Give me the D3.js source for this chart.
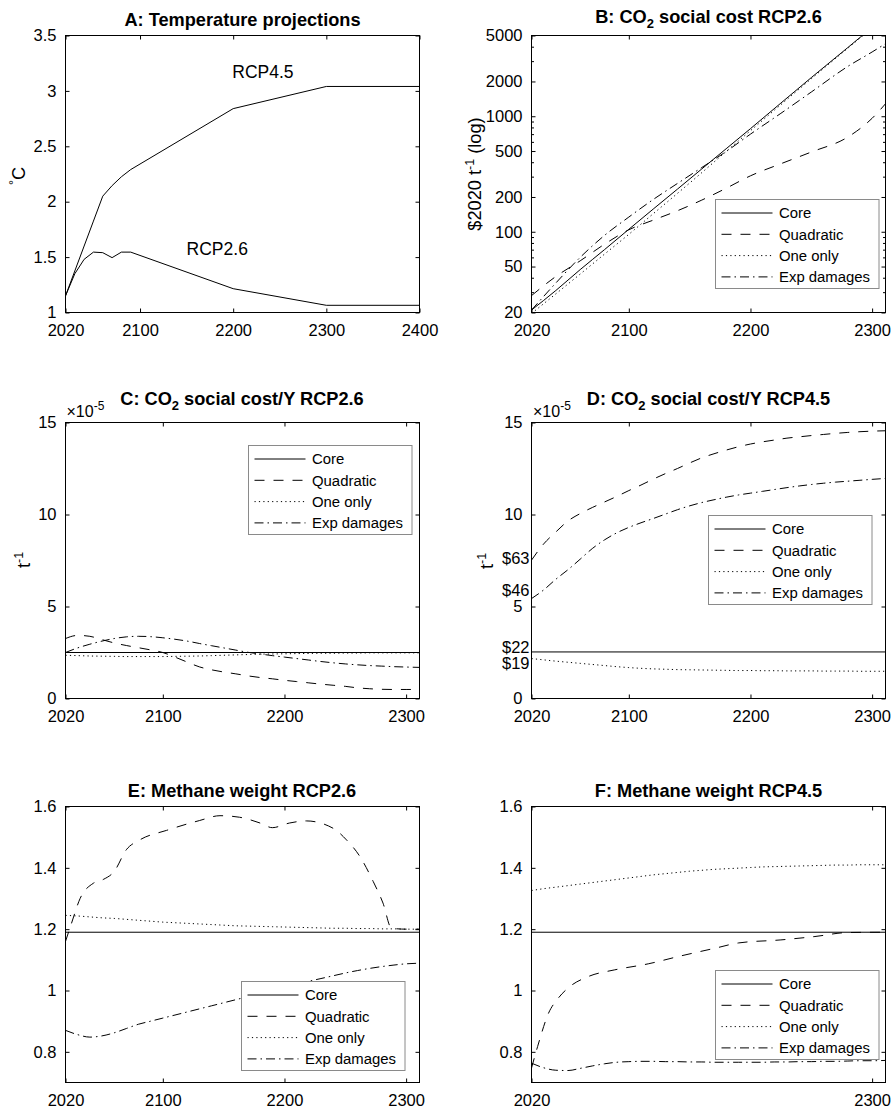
<!DOCTYPE html>
<html><head><meta charset="utf-8">
<script src="https://cdn.jsdelivr.net/npm/d3@7"></script>
<style>
body{margin:0;background:#fff}
svg{display:block}
text{font-family:"Liberation Sans",Arial,Helvetica,sans-serif;fill:#000}
</style>
</head><body>
<svg id="c" width="896" height="1111"></svg>
<script>
// ---------------- DATA ----------------
const seriesNames = ["Core", "Quadratic", "One only", "Exp damages"];

// Panel A
const yearsA = [2020, 2030, 2040, 2050, 2060, 2070, 2080, 2090, 2200, 2300, 2400];
const tempRCP26 = [1.15, 1.35, 1.48, 1.545, 1.54, 1.495, 1.545, 1.545, 1.215, 1.065, 1.065];
const tempRCP45 = [1.15, 1.375, 1.6, 1.825, 2.05, 2.145, 2.225, 2.29, 2.84, 3.04, 3.04];
const annoLabels = ["RCP4.5", "RCP2.6"];
const annoYears = [2199, 2150];
const annoVals = [3.12, 1.52];
const xTicksA = [2020, 2100, 2200, 2300, 2400];
const yTicksA = [1, 1.5, 2, 2.5, 3, 3.5];

// Panel B (log, $2020 per t)
const yearsB = [2020, 2040, 2060, 2080, 2100, 2120, 2140, 2160, 2180, 2200, 2225, 2250, 2280, 2300, 2311];
const sccCoreB = [21, 31, 47, 70, 105, 157, 234, 350, 523, 781, 1300, 2160, 3930, 5880, 7310];
const sccQuadB = [28, 41, 56, 78, 104, 126, 152, 188, 238, 305, 388, 490, 660, 960, 1282];
const sccOneB  = [19.6, 29, 43, 64, 95, 143, 215, 325, 495, 750, 1260, 2110, 3880, 5800, 7250];
const sccExpB  = [21, 36, 60, 93, 134, 190, 262, 360, 495, 700, 1060, 1620, 2700, 3600, 4250];
const yTicksB = [20, 50, 100, 200, 500, 1000, 2000, 5000];
const yMinorB = [30, 40, 60, 70, 80, 90, 300, 400, 600, 700, 800, 900, 3000, 4000];
const xTicksBE = [2020, 2100, 2200, 2300];

// Common yearly grid for C-F
const yearsCF = [2020, 2030, 2040, 2050, 2060, 2070, 2080, 2090, 2100, 2110,
                 2120, 2130, 2140, 2150, 2160, 2170, 2180, 2190, 2200, 2210,
                 2220, 2230, 2240, 2250, 2260, 2270, 2280, 2290, 2300, 2311];
const coreYears = [2020, 2311];

// Panel C (x 1e-5 per t), RCP2.6
const cCore = [2.5, 2.5];
const cQuad = [3.26, 3.43, 3.38, 3.20, 3.02, 2.88, 2.76, 2.64, 2.50, 2.25,
               1.98, 1.72, 1.56, 1.44, 1.34, 1.23, 1.14, 1.07, 0.99, 0.92,
               0.85, 0.78, 0.72, 0.66, 0.58, 0.53, 0.50, 0.49, 0.49, 0.49];
const cOne  = [2.35, 2.33, 2.31, 2.30, 2.29, 2.28, 2.28, 2.28, 2.28, 2.29,
               2.30, 2.31, 2.33, 2.35, 2.37, 2.39, 2.41, 2.42, 2.43, 2.44,
               2.45, 2.46, 2.46, 2.47, 2.47, 2.48, 2.48, 2.48, 2.48, 2.48];
const cExp  = [2.50, 2.75, 2.95, 3.12, 3.26, 3.35, 3.38, 3.36, 3.30, 3.22,
               3.12, 2.99, 2.87, 2.75, 2.63, 2.51, 2.42, 2.33, 2.25, 2.17,
               2.09, 2.01, 1.94, 1.88, 1.83, 1.79, 1.76, 1.73, 1.71, 1.69];

// Panel D (x 1e-5 per t), RCP4.5
const dCore = [2.53, 2.53];
const dQuad = [7.52, 8.40, 9.05, 9.65, 10.05, 10.38, 10.68, 10.98, 11.30, 11.60,
               11.92, 12.22, 12.50, 12.80, 13.08, 13.30, 13.50, 13.68, 13.83, 13.95,
               14.05, 14.15, 14.22, 14.29, 14.35, 14.41, 14.46, 14.50, 14.53, 14.55];
const dOne  = [2.17, 2.10, 2.03, 1.97, 1.91, 1.85, 1.79, 1.73, 1.68, 1.64,
               1.61, 1.59, 1.57, 1.56, 1.55, 1.54, 1.53, 1.52, 1.52, 1.51,
               1.51, 1.50, 1.50, 1.50, 1.49, 1.49, 1.49, 1.48, 1.48, 1.48];
const dExp  = [5.43, 5.90, 6.48, 7.00, 7.57, 8.15, 8.62, 9.00, 9.30, 9.55,
               9.78, 10.02, 10.26, 10.47, 10.65, 10.80, 10.94, 11.06, 11.16, 11.26,
               11.36, 11.46, 11.55, 11.63, 11.70, 11.76, 11.81, 11.86, 11.91, 11.96];
const dollarLabels = ["$63", "$46", "$22", "$19"];
const dollarLabelVals = [7.6, 5.9, 2.78, 1.9];
const yTicksCD = [0, 5, 10, 15];

// Panel E (methane weight), RCP2.6
const eCore = [1.19, 1.19];
const eQuadYears = [2020, 2025, 2032, 2043, 2051, 2060, 2070, 2081, 2103, 2130, 2147, 2163,
                    2180, 2190, 2204, 2218, 2240, 2251, 2262, 2273, 2281, 2288, 2300, 2311];
const eQuad = [1.16, 1.22, 1.30, 1.35, 1.362, 1.388, 1.459, 1.491, 1.522, 1.554, 1.57, 1.565,
               1.546, 1.531, 1.546, 1.553, 1.529, 1.491, 1.437, 1.355, 1.285, 1.203, 1.20, 1.20];
const eOne  = [1.245, 1.243, 1.240, 1.237, 1.235, 1.232, 1.229, 1.226, 1.223, 1.221,
               1.219, 1.217, 1.215, 1.213, 1.211, 1.210, 1.209, 1.208, 1.207, 1.206,
               1.205, 1.204, 1.203, 1.203, 1.202, 1.202, 1.201, 1.201, 1.200, 1.200];
const eExp  = [0.870, 0.856, 0.848, 0.852, 0.862, 0.876, 0.890, 0.900, 0.910, 0.920,
               0.930, 0.940, 0.950, 0.960, 0.970, 0.980, 0.990, 1.000, 1.010, 1.020,
               1.030, 1.039, 1.048, 1.057, 1.065, 1.072, 1.078, 1.083, 1.087, 1.089];
const yTicksEF = [0.8, 1, 1.2, 1.4, 1.6];

// Panel F (methane weight), RCP4.5
const fCore = [1.19, 1.19];
const fQuadYears = [2020, 2025, 2034, 2042, 2050, 2067, 2088, 2116, 2143, 2171, 2190, 2225, 2253, 2280, 2311];
const fQuad = [0.747, 0.817, 0.926, 0.975, 1.008, 1.046, 1.067, 1.087, 1.113, 1.138, 1.155, 1.165, 1.176, 1.189, 1.19];
const fOne  = [1.326, 1.332, 1.337, 1.342, 1.347, 1.352, 1.357, 1.362, 1.367, 1.372,
               1.377, 1.381, 1.385, 1.389, 1.392, 1.395, 1.397, 1.399, 1.401, 1.403,
               1.404, 1.405, 1.406, 1.407, 1.408, 1.409, 1.409, 1.410, 1.410, 1.410];
const fExp  = [0.763, 0.748, 0.740, 0.739, 0.746, 0.754, 0.761, 0.766, 0.768, 0.769,
               0.769, 0.768, 0.768, 0.767, 0.767, 0.766, 0.766, 0.766, 0.766, 0.766,
               0.767, 0.767, 0.768, 0.768, 0.769, 0.769, 0.770, 0.771, 0.771, 0.772];
const xTicksF = [2020, 2300];

// ---------------- DRAWING ----------------
const svg = d3.select("#c");
const TICK_FS = 16.5, TITLE_FS = 18.2, LEG_FS = 14.9;
const dashes = ["none", "10,9", "1.2,3.2", "9,4,1.5,4"];
const zip = (xs, ys) => xs.map((v, i) => [v, ys[i]]);

function makePanel(cfg) {
  const g = svg.append("g");
  const x = d3.scaleLinear().domain(cfg.xDomain).range([cfg.l, cfg.r]);
  const y = (cfg.log ? d3.scaleLog() : d3.scaleLinear()).domain(cfg.yDomain).range([cfg.b, cfg.t]);
  const clipId = "clip" + cfg.id;
  svg.append("clipPath").attr("id", clipId).append("rect")
    .attr("x", cfg.l).attr("y", cfg.t).attr("width", cfg.r - cfg.l).attr("height", cfg.b - cfg.t);

  const styleAxis = sel => {
    sel.attr("font-size", null).attr("font-family", null);
    sel.select(".domain").remove();
    sel.selectAll(".tick line").attr("stroke", "#000").attr("stroke-width", 1);
    sel.selectAll(".tick text").style("font-size", TICK_FS + "px").attr("fill", "#000");
  };
  const fmtY = cfg.yFormat || (d => d3.format("")(d));

  g.append("g").attr("transform", `translate(0,${cfg.b})`)
    .call(d3.axisBottom(x).tickValues(cfg.xTicks).tickFormat(d3.format("d"))
      .tickSizeInner(-4).tickSizeOuter(0).tickPadding(12)).call(styleAxis);
  g.append("g").attr("transform", `translate(0,${cfg.t})`)
    .call(d3.axisTop(x).tickValues(cfg.xTicks).tickFormat("")
      .tickSizeInner(-4).tickSizeOuter(0)).call(styleAxis);
  g.append("g").attr("transform", `translate(${cfg.l},0)`)
    .call(d3.axisLeft(y).tickValues(cfg.yTicks).tickFormat(fmtY)
      .tickSizeInner(-4).tickSizeOuter(0).tickPadding(9)).call(styleAxis);
  g.append("g").attr("transform", `translate(${cfg.r},0)`)
    .call(d3.axisRight(y).tickValues(cfg.yTicks).tickFormat("")
      .tickSizeInner(-4).tickSizeOuter(0)).call(styleAxis);
  if (cfg.yMinor) {
    g.append("g").attr("transform", `translate(${cfg.l},0)`)
      .call(d3.axisLeft(y).tickValues(cfg.yMinor).tickFormat("")
        .tickSizeInner(-2.5).tickSizeOuter(0)).call(styleAxis);
    g.append("g").attr("transform", `translate(${cfg.r},0)`)
      .call(d3.axisRight(y).tickValues(cfg.yMinor).tickFormat("")
        .tickSizeInner(-2.5).tickSizeOuter(0)).call(styleAxis);
  }
  g.append("rect").attr("x", cfg.l).attr("y", cfg.t)
    .attr("width", cfg.r - cfg.l).attr("height", cfg.b - cfg.t)
    .attr("fill", "none").attr("stroke", "#000").attr("stroke-width", 1);

  const lines = g.append("g").attr("clip-path", `url(#${clipId})`);
  return { g, x, y, lines };
}

function drawSeries(p, pts, dash, curve) {
  const line = d3.line().x(d => p.x(d[0])).y(d => p.y(d[1])).curve(curve || d3.curveMonotoneX);
  p.lines.append("path").attr("d", line(pts))
    .attr("fill", "none").attr("stroke", "#000").attr("stroke-width", 1)
    .attr("stroke-dasharray", dash === "none" ? null : dash);
}

function drawLegend(left, top) {
  const w = 163.5, h = 89;
  const lg = svg.append("g");
  lg.append("rect").attr("x", left).attr("y", top).attr("width", w).attr("height", h)
    .attr("fill", "#fff").attr("stroke", "#8a8a8a").attr("stroke-width", 1);
  seriesNames.forEach((name, i) => {
    const cy = top + 13.5 + i * 21.3;
    lg.append("line").attr("x1", left + 6).attr("x2", left + 57).attr("y1", cy).attr("y2", cy)
      .attr("stroke", "#000").attr("stroke-width", 1)
      .attr("stroke-dasharray", dashes[i] === "none" ? null : dashes[i]);
    lg.append("text").attr("x", left + 63.5).attr("y", cy + 5.3)
      .style("font-size", LEG_FS + "px").text(name);
  });
}

function title(cx, y, parts) {
  const t = svg.append("text").attr("x", cx).attr("y", y).attr("text-anchor", "middle")
    .style("font-size", TITLE_FS + "px").style("font-weight", "bold");
  parts.forEach(pt => {
    if (pt.sub) {
      t.append("tspan").attr("dy", 5).style("font-size", "13px").text(pt.text);
    } else {
      t.append("tspan").attr("dy", pt.back ? -5 : 0).text(pt.text);
    }
  });
}

function yLabel(x, y, parts) {
  const t = svg.append("text").attr("transform", `translate(${x},${y}) rotate(-90)`)
    .attr("text-anchor", "middle").style("font-size", TITLE_FS + "px");
  parts.forEach(pt => {
    if (pt.sup) t.append("tspan").attr("dy", -7).style("font-size", "12.5px").text(pt.text);
    else t.append("tspan").attr("dy", pt.back ? 7 : 0).text(pt.text);
  });
}

function expLabel(x, y) {
  const t = svg.append("text").attr("x", x).attr("y", y).style("font-size", "16px").attr("fill", "#000");
  t.append("tspan").text("\u00d710");
  t.append("tspan").attr("dy", -7).style("font-size", "12px").text("-5");
}

const fmtGeneral = d => (Math.round(d * 10) / 10).toString();

// ----- Panel A -----
const pA = makePanel({ id: "A", l: 65.5, r: 419.5, t: 35.5, b: 312.5,
  xDomain: [2020, 2400], yDomain: [1, 3.5], xTicks: xTicksA, yTicks: yTicksA, yFormat: fmtGeneral });
drawSeries(pA, zip(yearsA, tempRCP45), "none", d3.curveLinear);
drawSeries(pA, zip(yearsA, tempRCP26), "none", d3.curveLinear);
annoLabels.forEach((s, i) => {
  pA.g.append("text").attr("x", pA.x(annoYears[i])).attr("y", pA.y(annoVals[i]))
    .style("font-size", "17.5px").text(s);
});
title(242.5, 25.5, [{ text: "A: Temperature projections" }]);
yLabel(25, 176, [{ text: "\u00b0", sup: true }, { text: "C", back: true }]);

// ----- Panel B -----
const pB = makePanel({ id: "B", l: 531.5, r: 885.5, t: 35.5, b: 312.5, log: true,
  xDomain: [2020, 2311], yDomain: [20, 5000], xTicks: xTicksBE, yTicks: yTicksB, yMinor: yMinorB,
  yFormat: d3.format("d") });
drawSeries(pB, zip(yearsB, sccCoreB), dashes[0]);
drawSeries(pB, zip(yearsB, sccQuadB), dashes[1]);
drawSeries(pB, zip(yearsB, sccOneB), dashes[2]);
drawSeries(pB, zip(yearsB, sccExpB), dashes[3]);
drawLegend(715.5, 199.5);
title(708.5, 22.7, [{ text: "B: CO" }, { text: "2", sub: true }, { text: " social cost RCP2.6", back: true }]);
yLabel(481, 174, [{ text: "$2020 t" }, { text: "-1", sup: true }, { text: " (log)", back: true }]);

// ----- Panel C -----
const pC = makePanel({ id: "C", l: 65.5, r: 419.5, t: 422.5, b: 698.5,
  xDomain: [2020, 2311], yDomain: [0, 15], xTicks: xTicksBE, yTicks: yTicksCD, yFormat: d3.format("d") });
drawSeries(pC, zip(coreYears, cCore), dashes[0]);
drawSeries(pC, zip(yearsCF, cQuad), dashes[1]);
drawSeries(pC, zip(yearsCF, cOne), dashes[2]);
drawSeries(pC, zip(yearsCF, cExp), dashes[3]);
drawLegend(248.5, 445.5);
title(242, 405, [{ text: "C: CO" }, { text: "2", sub: true }, { text: " social cost/Y RCP2.6", back: true }]);
expLabel(66.5, 416.5);
yLabel(30, 560, [{ text: "t" }, { text: "-1", sup: true }]);

// ----- Panel D -----
const pD = makePanel({ id: "D", l: 531.5, r: 885.5, t: 422.5, b: 698.5,
  xDomain: [2020, 2311], yDomain: [0, 15], xTicks: xTicksBE, yTicks: yTicksCD, yFormat: d3.format("d") });
drawSeries(pD, zip(coreYears, dCore), dashes[0]);
drawSeries(pD, zip(yearsCF, dQuad), dashes[1]);
drawSeries(pD, zip(yearsCF, dOne), dashes[2]);
drawSeries(pD, zip(yearsCF, dExp), dashes[3]);
dollarLabels.forEach((s, i) => {
  pD.g.append("text").attr("x", pD.x(2020) - 2).attr("y", pD.y(dollarLabelVals[i]))
    .attr("dy", "0.35em").attr("text-anchor", "end").style("font-size", TICK_FS + "px").text(s);
});
drawLegend(708.5, 515.5);
title(708.5, 405, [{ text: "D: CO" }, { text: "2", sub: true }, { text: " social cost/Y RCP4.5", back: true }]);
expLabel(533, 416.5);
yLabel(493, 561, [{ text: "t" }, { text: "-1", sup: true }]);

// ----- Panel E -----
const pE = makePanel({ id: "E", l: 65.5, r: 419.5, t: 806.5, b: 1082.5,
  xDomain: [2020, 2311], yDomain: [0.7, 1.6], xTicks: xTicksBE, yTicks: yTicksEF, yFormat: fmtGeneral });
drawSeries(pE, zip(coreYears, eCore), dashes[0]);
drawSeries(pE, zip(eQuadYears, eQuad), dashes[1]);
drawSeries(pE, zip(yearsCF, eOne), dashes[2]);
drawSeries(pE, zip(yearsCF, eExp), dashes[3]);
drawLegend(241.5, 981.5);
title(242, 797, [{ text: "E: Methane weight RCP2.6" }]);

// ----- Panel F -----
const pF = makePanel({ id: "F", l: 531.5, r: 885.5, t: 806.5, b: 1082.5,
  xDomain: [2020, 2311], yDomain: [0.7, 1.6], xTicks: xTicksF, yTicks: yTicksEF, yFormat: fmtGeneral });
drawSeries(pF, zip(coreYears, fCore), dashes[0]);
drawSeries(pF, zip(fQuadYears, fQuad), dashes[1]);
drawSeries(pF, zip(yearsCF, fOne), dashes[2]);
drawSeries(pF, zip(yearsCF, fExp), dashes[3]);
drawLegend(715.5, 970.5);
title(708.5, 797, [{ text: "F: Methane weight RCP4.5" }]);
</script>
</body></html>
